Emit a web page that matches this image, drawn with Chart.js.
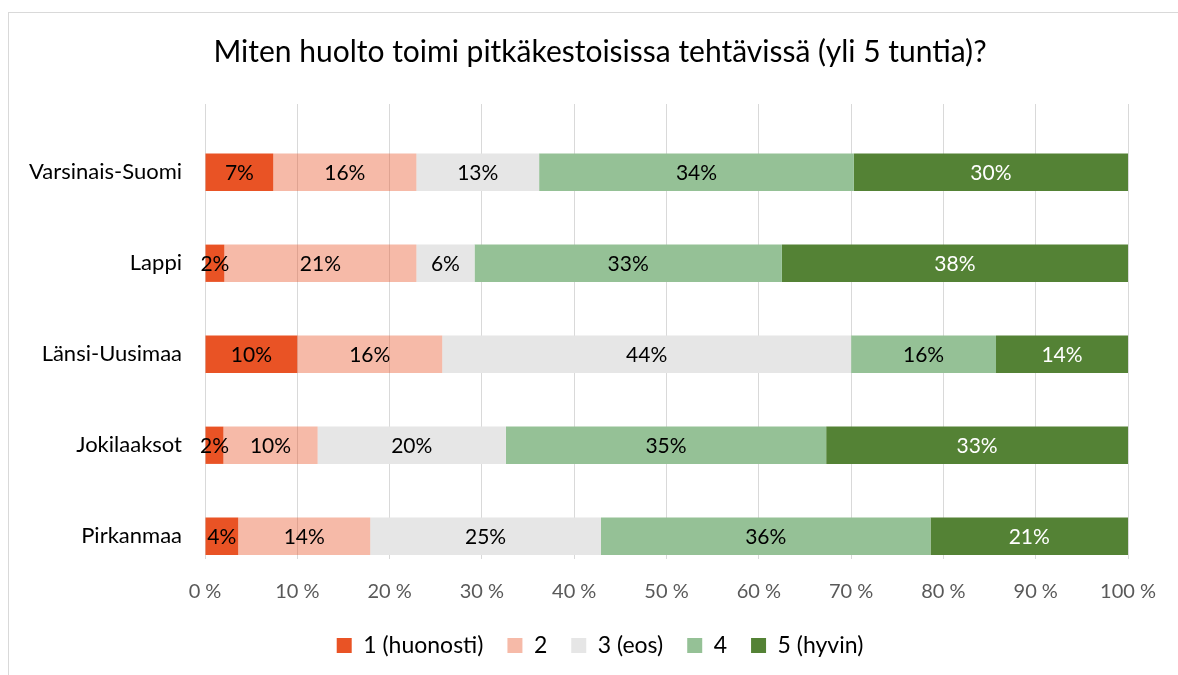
<!DOCTYPE html>
<html>
<head>
<meta charset="utf-8">
<title>Miten huolto toimi</title>
<script src="https://cdn.jsdelivr.net/npm/chart.js@4.4.1/dist/chart.umd.min.js"></script>
<style>
    html, body { margin: 0; padding: 0; background: #fff; overflow: hidden; }
    .frame {
        position: absolute; left: 8px; top: 12px;
        width: 1300px; height: 800px;
        border: 1px solid #d9d9d9;
    }
    .chart-container { position: absolute; left: 0; top: 0; width: 1178px; height: 675px; }
</style>
</head>
<body>
<div class="frame"></div>
<div class="chart-container">
    <canvas id="chart" width="1178" height="675"></canvas>
</div>
<script>
const titleText = 'Miten huolto toimi pitkäkestoisissa tehtävissä (yli 5 tuntia)?';
const regions = ['Varsinais-Suomi', 'Lappi', 'Länsi-Uusimaa', 'Jokilaaksot', 'Pirkanmaa'];
const seriesNames = ['1 (huonosti)', '2', '3 (eos)', '4', '5 (hyvin)'];

// shares in percent, one array per answer
const answer1 = [7.4, 2.1, 10.0, 2.0, 3.6];
const answer2 = [15.5, 20.8, 15.7, 10.2, 14.3];
const answer3 = [13.3, 6.3, 44.3, 20.4, 25.0];
const answer4 = [34.1, 33.3, 15.7, 34.7, 35.7];
const answer5 = [29.7, 37.5, 14.3, 32.7, 21.4];

const xTicks = [0, 10, 20, 30, 40, 50, 60, 70, 80, 90, 100];

const colors = ['#e95325', 'rgba(233, 83, 37, 0.4)', '#e6e6e6', '#95c196', '#548235'];
const labelColors = ['#000', '#000', '#000', '#000', '#fff'];

const FONT = 'Lato, "Open Sans", sans-serif';
Chart.defaults.font.family = FONT;
Chart.defaults.color = '#000';

const seriesData = [answer1, answer2, answer3, answer4, answer5];

const datasets = [{
    // empty stack, keeps the bars in the lower half of each row like the original
    label: '',
    data: regions.map(() => null),
    stack: 'pad',
    backgroundColor: 'rgba(0,0,0,0)'
}];
seriesData.forEach((values, i) => {
    datasets.push({
        label: seriesNames[i],
        data: values,
        stack: 'main',
        backgroundColor: colors[i],
        borderWidth: 0,
        labelColor: labelColors[i]
    });
});

const barLabels = {
    id: 'barLabels',
    afterLayout(chart) {
        // let the long region names draw left of the (narrow) y axis box
        chart.scales.y.left = 0;
    },
    afterDatasetsDraw(chart) {
        const ctx = chart.ctx;
        ctx.save();
        ctx.font = '21px ' + FONT;
        ctx.textAlign = 'center';
        ctx.textBaseline = 'middle';
        chart.data.datasets.forEach((ds, di) => {
            if (ds.stack !== 'main') return;
            const meta = chart.getDatasetMeta(di);
            meta.data.forEach((bar, i) => {
                const v = ds.data[i];
                if (v == null) return;
                ctx.fillStyle = ds.labelColor;
                ctx.fillText(Math.round(v) + '%', (bar.x + bar.base) / 2, bar.y + 1);
            });
        });
        ctx.restore();
    }
};

const config = {
    type: 'bar',
    data: {
        labels: regions,
        datasets: datasets
    },
    options: {
        indexAxis: 'y',
        responsive: false,
        animation: false,
        categoryPercentage: 1,
        barPercentage: 0.82,
        layout: {
            padding: { left: 72, right: 50, top: 0, bottom: 8 }
        },
        scales: {
            x: {
                stacked: true,
                min: 0,
                max: 100,
                afterBuildTicks: (scale) => {
                    scale.ticks = xTicks.map(v => ({ value: v }));
                },
                // invisible tick marks only push the labels down
                grid: { color: '#d9d9d9', lineWidth: 1, drawTicks: true, tickLength: 15, tickColor: 'rgba(0,0,0,0)' },
                border: { display: false },
                ticks: {
                    padding: 0,
                    color: '#595959',
                    font: { size: 20, lineHeight: 1.8 },
                    callback: (v) => v + ' %'
                }
            },
            y: {
                stacked: true,
                grid: { display: false, drawTicks: false },
                border: { display: false },
                afterFit: (scale) => { scale.width = 133; },
                ticks: {
                    padding: 23,
                    labelOffset: 22.75,
                    color: '#000',
                    font: { size: 22 }
                }
            }
        },
        plugins: {
            title: {
                display: true,
                text: titleText,
                color: '#000',
                font: { size: 30, weight: 'normal' },
                padding: { top: 34, bottom: 34 }
            },
            legend: {
                position: 'bottom',
                labels: {
                    boxWidth: 15,
                    boxHeight: 15,
                    padding: 24,
                    color: '#000',
                    font: { size: 23 },
                    filter: (item) => item.text !== ''
                }
            },
            tooltip: { enabled: false }
        }
    },
    plugins: [barLabels]
};

const chart = new Chart(document.getElementById('chart'), config);
</script>
</body>
</html>
